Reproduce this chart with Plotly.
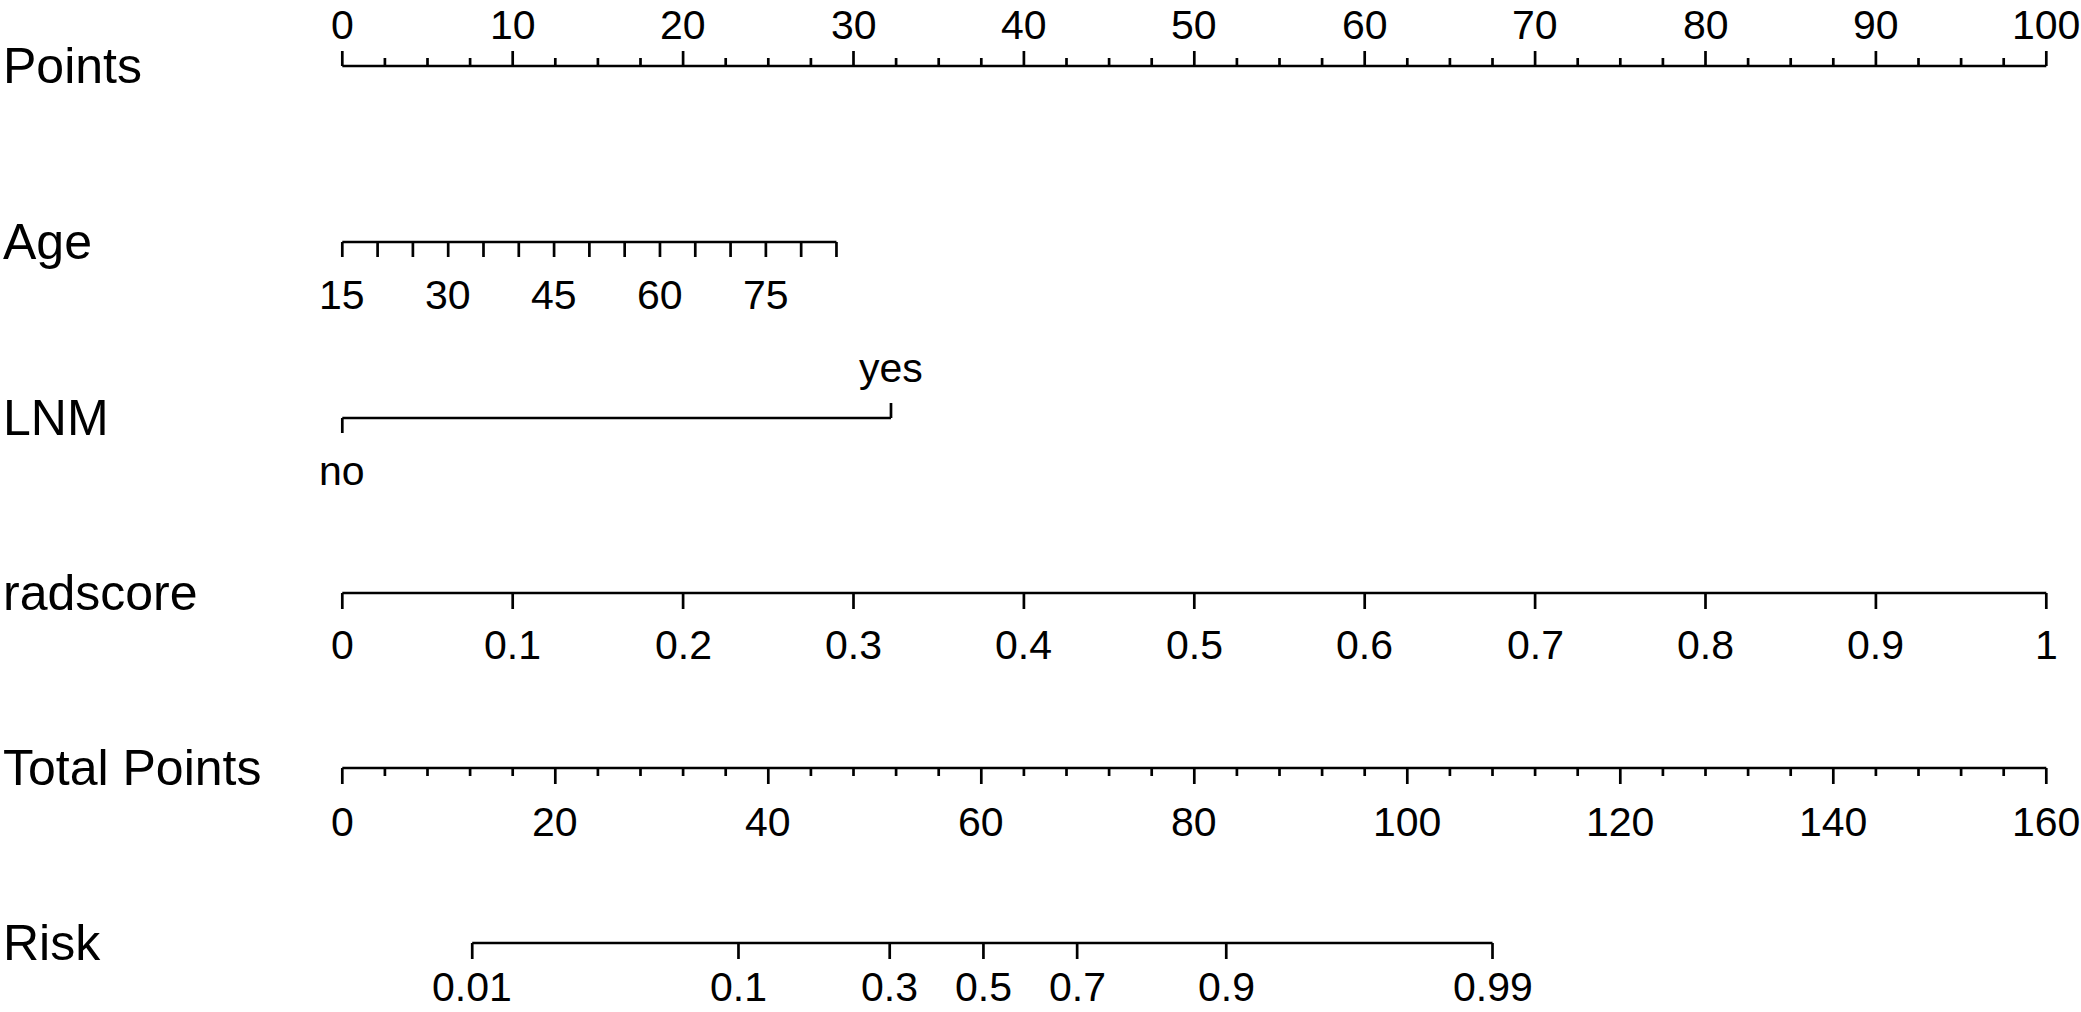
import plotly.graph_objects as go

# ---------------- data ----------------
points_major = [0, 10, 20, 30, 40, 50, 60, 70, 80, 90, 100]
points_minor = [i * 2.5 for i in range(41)]

age_ticks = [15, 20, 25, 30, 35, 40, 45, 50, 55, 60, 65, 70, 75, 80, 85]
age_labels = [15, 30, 45, 60, 75]
age_range = [15, 85]
age_points_range = [0, 29.0]

lnm_levels = ["no", "yes"]
lnm_points = [0, 32.2]

rad_ticks = [0, 0.1, 0.2, 0.3, 0.4, 0.5, 0.6, 0.7, 0.8, 0.9, 1]
rad_tick_labels = ["0", "0.1", "0.2", "0.3", "0.4", "0.5", "0.6", "0.7", "0.8", "0.9", "1"]
rad_range = [0, 1]
rad_points_range = [0, 100]

total_major = [0, 20, 40, 60, 80, 100, 120, 140, 160]
total_minor = list(range(0, 161, 4))
total_range = [0, 160]

risk_ticks = ["0.01", "0.1", "0.3", "0.5", "0.7", "0.9", "0.99"]
risk_total_points = [12.2, 37.2, 51.4, 60.2, 69.0, 83.0, 108.0]

row_names = ["Points", "Age", "LNM", "radscore", "Total Points", "Risk"]

# ---------------- layout constants ----------------
W, H = 2081, 1012
X0_PX, PX_PER_PT = 342.3, 17.04
row_y = {"Points": 66, "Age": 242, "LNM": 418, "radscore": 593,
         "Total Points": 768, "Risk": 943}
LW = 2.7
AX_FONT = dict(family="Liberation Sans, Arial, sans-serif", size=41, color="black")
VAR_FONT = dict(family="Liberation Sans, Arial, sans-serif", size=50, color="black")


def lin(v, dom, rng):
    return rng[0] + (v - dom[0]) * (rng[1] - rng[0]) / (dom[1] - dom[0])


def age_pt(a):
    return lin(a, age_range, age_points_range)


def rad_pt(r):
    return lin(r, rad_range, rad_points_range)


def tot_pt(t):
    return lin(t, total_range, [0, 100])


fig = go.Figure()
annotations = []


def add_axis(y, xs_line, tick_specs):
    """tick_specs: list of (x, length) ; negative length = upward tick."""
    xs, ys = [xs_line[0], xs_line[1], None], [y, y, None]
    for x, ln in tick_specs:
        xs += [x, x, None]
        ys += [y, y + ln, None]
    fig.add_trace(go.Scatter(x=xs, y=ys, mode="lines",
                             line=dict(color="black", width=LW),
                             hoverinfo="skip", showlegend=False))


def label(x, y, text):
    annotations.append(dict(x=x, y=y, xref="x", yref="y", text=text,
                            showarrow=False, xanchor="center", yanchor="middle",
                            font=AX_FONT))


# Points
y = row_y["Points"]
ticks = [(p, -15 if p in points_major else -8) for p in points_minor]
add_axis(y, [points_major[0], points_major[-1]], ticks)
for p in points_major:
    label(p, 25, str(p))

# Age
y = row_y["Age"]
add_axis(y, [age_pt(age_range[0]), age_pt(age_range[1])],
         [(age_pt(a), 15) for a in age_ticks])
for a in age_labels:
    label(age_pt(a), 295, str(a))

# LNM
y = row_y["LNM"]
add_axis(y, [lnm_points[0], lnm_points[1]],
         [(lnm_points[0], 15), (lnm_points[1], -15)])
label(lnm_points[0], 471, lnm_levels[0])
label(lnm_points[1], 368, lnm_levels[1])

# radscore
y = row_y["radscore"]
add_axis(y, [rad_pt(rad_range[0]), rad_pt(rad_range[1])],
         [(rad_pt(r), 16) for r in rad_ticks])
for r, t in zip(rad_ticks, rad_tick_labels):
    label(rad_pt(r), 645, t)

# Total Points
y = row_y["Total Points"]
add_axis(y, [tot_pt(total_range[0]), tot_pt(total_range[1])],
         [(tot_pt(t), 16 if t in total_major else 8) for t in total_minor])
for t in total_major:
    label(tot_pt(t), 822, str(t))

# Risk
y = row_y["Risk"]
rx = [tot_pt(t) for t in risk_total_points]
add_axis(y, [rx[0], rx[-1]], [(x, 16) for x in rx])
for x, t in zip(rx, risk_ticks):
    label(x, 987, t)

# variable names
for name in row_names:
    annotations.append(dict(x=1 / W, y=row_y[name], xref="paper", yref="y",
                            text=name, showarrow=False, xanchor="left",
                            yanchor="middle", font=VAR_FONT))

fig.update_layout(
    width=W, height=H,
    margin=dict(l=0, r=0, t=0, b=0),
    paper_bgcolor="white", plot_bgcolor="white",
    xaxis=dict(range=[-X0_PX / PX_PER_PT, (W - X0_PX) / PX_PER_PT],
               visible=False, fixedrange=True),
    yaxis=dict(range=[H, 0], visible=False, fixedrange=True),
    annotations=annotations,
    showlegend=False,
)

fig.write_html(
    "out.html",
    config={"displayModeBar": False},
    post_script="document.body.style.margin='0';"
                "document.documentElement.style.overflow='hidden';",
)
